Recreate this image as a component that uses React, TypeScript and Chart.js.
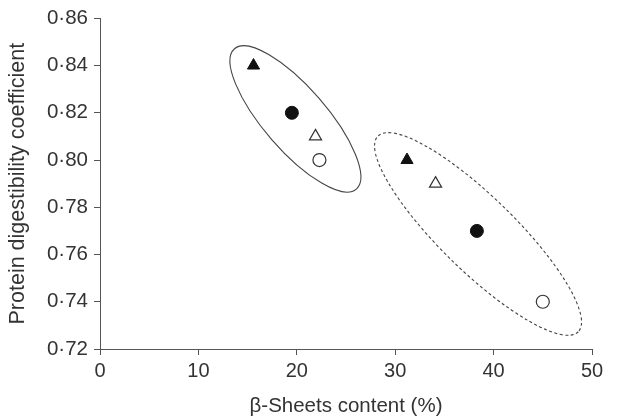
import React, { useEffect, useRef } from 'react';
import { Chart, registerables } from 'chart.js';

Chart.register(...registerables);

// β-sheet content (%) and protein digestibility coefficient, per marker type
const filledTriangleX = [15.6, 31.2];
const filledTriangleY = [0.84, 0.80];
const filledCircleX = [19.5, 38.3];
const filledCircleY = [0.82, 0.77];
const openTriangleX = [21.9, 34.1];
const openTriangleY = [0.81, 0.79];
const openCircleX = [22.3, 45.0];
const openCircleY = [0.80, 0.74];

// axis ticks
const xTickValues = [0, 10, 20, 30, 40, 50];
const yTickValues = [0.72, 0.74, 0.76, 0.78, 0.8, 0.82, 0.84, 0.86];
const yTickLabels = ['0·72', '0·74', '0·76', '0·78', '0·80', '0·82', '0·84', '0·86'];

// grouping ellipses (data units): centre, end of major axis, minor/major ratio
const groupCenterX = [19.86, 38.42];
const groupCenterY = [0.8174, 0.7687];
const groupAxisEndX = [26.05, 48.6];
const groupAxisEndY = [0.7877, 0.7273];
const groupMinorRatio = [0.338, 0.266];
const groupDashed = [false, true];

const FONT = '"Liberation Sans", Arial, Helvetica, sans-serif';
const TEXT = '#333333';
const AXIS = '#555555';

const pts = (xs: number[], ys: number[]) => xs.map((x, i) => ({ x, y: ys[i] }));

const ellipsePlugin = {
  id: 'groupEllipses',
  beforeDatasetsDraw(chart: any) {
    const { ctx } = chart;
    const xs = chart.scales.x;
    const ys = chart.scales.y;
    groupCenterX.forEach((cxv, i) => {
      const cx = xs.getPixelForValue(cxv);
      const cy = ys.getPixelForValue(groupCenterY[i]);
      const ex = xs.getPixelForValue(groupAxisEndX[i]);
      const ey = ys.getPixelForValue(groupAxisEndY[i]);
      const a = Math.hypot(ex - cx, ey - cy);
      const ang = Math.atan2(ey - cy, ex - cx);
      ctx.save();
      ctx.beginPath();
      ctx.ellipse(cx, cy, a, a * groupMinorRatio[i], ang, 0, Math.PI * 2);
      ctx.setLineDash(groupDashed[i] ? [3, 2.5] : []);
      ctx.lineWidth = 1.1;
      ctx.strokeStyle = '#444444';
      ctx.stroke();
      ctx.restore();
    });
  },
};

export default function App() {
  const canvasRef = useRef<HTMLCanvasElement | null>(null);

  useEffect(() => {
    document.body.style.margin = '0';
    const canvas = canvasRef.current;
    if (!canvas) return;
    const chart = new Chart(canvas, {
      type: 'scatter',
      data: {
        datasets: [
          {
            label: 'filled triangle',
            data: pts(filledTriangleX, filledTriangleY),
            pointStyle: 'triangle',
            pointRadius: 7,
            backgroundColor: '#111111',
            borderColor: '#111111',
            borderWidth: 1,
          },
          {
            label: 'filled circle',
            data: pts(filledCircleX, filledCircleY),
            pointStyle: 'circle',
            pointRadius: 6.5,
            backgroundColor: '#111111',
            borderColor: '#111111',
            borderWidth: 1,
          },
          {
            label: 'open triangle',
            data: pts(openTriangleX, openTriangleY),
            pointStyle: 'triangle',
            pointRadius: 7,
            backgroundColor: '#ffffff',
            borderColor: '#333333',
            borderWidth: 1.2,
          },
          {
            label: 'open circle',
            data: pts(openCircleX, openCircleY),
            pointStyle: 'circle',
            pointRadius: 6.5,
            backgroundColor: '#ffffff',
            borderColor: '#333333',
            borderWidth: 1.2,
          },
        ],
      },
      options: {
        responsive: false,
        animation: false,
        layout: { padding: { top: 14, right: 27, left: 0, bottom: 0 } },
        plugins: { legend: { display: false }, tooltip: { enabled: false } },
        scales: {
          x: {
            type: 'linear',
            min: 0,
            max: 50,
            afterBuildTicks: (scale: any) => {
              scale.ticks = xTickValues.map((v) => ({ value: v }));
            },
            afterFit: (scale: any) => {
              scale.height = 70;
            },
            border: { display: true, color: AXIS, width: 1 },
            grid: { display: true, drawOnChartArea: false, drawTicks: true, tickLength: 6, color: AXIS },
            ticks: {
              color: TEXT,
              font: { family: FONT, size: 20 },
              padding: 4,
              maxRotation: 0,
              callback: (v: any) => String(v),
            },
            title: {
              display: true,
              text: 'β-Sheets content (%)',
              color: TEXT,
              font: { family: FONT, size: 20.5 },
              padding: { top: 0, bottom: 0 },
            },
          },
          y: {
            type: 'linear',
            min: 0.72,
            max: 0.86,
            afterBuildTicks: (scale: any) => {
              scale.ticks = yTickValues.map((v) => ({ value: v }));
            },
            afterFit: (scale: any) => {
              scale.width = 100;
            },
            border: { display: true, color: AXIS, width: 1 },
            grid: { display: true, drawOnChartArea: false, drawTicks: true, tickLength: 6, color: AXIS },
            ticks: {
              color: TEXT,
              font: { family: FONT, size: 20.5 },
              padding: 6,
              callback: (_v: any, i: number) => yTickLabels[i],
            },
            title: {
              display: true,
              text: 'Protein digestibility coefficient',
              color: TEXT,
              font: { family: FONT, size: 21.5 },
              padding: { top: 5, bottom: 0 },
            },
          },
        },
      },
      plugins: [ellipsePlugin],
    } as any);
    return () => chart.destroy();
  }, []);

  return (
    <div style={{ position: 'absolute', left: 0, top: 0, width: 619, height: 419, background: '#ffffff' }}>
      <canvas ref={canvasRef} width={619} height={419} style={{ display: 'block' }} />
    </div>
  );
}
